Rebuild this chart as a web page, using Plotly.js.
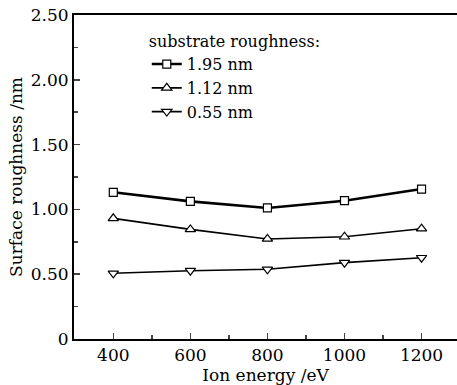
<!DOCTYPE html>
<html><head><meta charset="utf-8">
<script src="https://cdn.plot.ly/plotly-3.0.1.min.js"></script>
<style>html,body{margin:0;padding:0;background:#fff;overflow:hidden}</style>
</head><body><div id="chart" style="width:457px;height:385px"></div>
<script>
const ionEnergy = [400, 600, 800, 1000, 1200];
const rough195 = [1.132, 1.062, 1.011, 1.067, 1.157];
const rough112 = [0.931, 0.846, 0.772, 0.789, 0.851];
const rough055 = [0.507, 0.527, 0.538, 0.589, 0.627];
const seriesNames = ['1.95 nm', '1.12 nm', '0.55 nm'];
const yTickVals = [0, 0.5, 1.0, 1.5, 2.0, 2.5];
const yTickText = ['0', '0.50', '1.00', '1.50', '2.00', '2.50'];
const xTickVals = [400, 600, 800, 1000, 1200];

const font = 'DejaVu Serif, Liberation Serif, serif';
const mk = (sym, size) => ({symbol: sym, size: size, color: '#fff', line: {color: '#000', width: 1.2}});
const traces = [
  {x: ionEnergy, y: rough195, name: seriesNames[0], mode: 'lines+markers', line: {color: '#000', width: 2.6}, marker: mk('square', 8)},
  {x: ionEnergy, y: rough112, name: seriesNames[1], mode: 'lines+markers', line: {color: '#000', width: 1.6}, marker: mk('triangle-up', 9)},
  {x: ionEnergy, y: rough055, name: seriesNames[2], mode: 'lines+markers', line: {color: '#000', width: 1.6}, marker: mk('triangle-down', 9)}
];

const layout = {
  width: 457, height: 385,
  margin: {l: 74, r: 0, t: 15, b: 46},
  paper_bgcolor: '#fff', plot_bgcolor: '#fff',
  font: {family: font, color: '#000', size: 16},
  showlegend: true,
  legend: {
    x: 0.19, y: 0.965, xanchor: 'left', yanchor: 'top',
    bgcolor: 'rgba(0,0,0,0)', font: {family: font, size: 16},
    title: {text: 'substrate roughness:', font: {family: font, size: 16}},
    tracegroupgap: 0, itemwidth: 30
  },
  xaxis: {
    range: [298, 1292], tickvals: xTickVals, ticks: 'inside', ticklen: 6, tickwidth: 1.5,
    showline: true, linewidth: 2, linecolor: '#000', mirror: true, showgrid: false, zeroline: false,
    minor: {tickvals: [300, 500, 700, 900, 1100], ticks: 'inside', ticklen: 4, tickwidth: 1.5},
    title: {text: 'Ion energy /eV', font: {family: font, size: 17}, standoff: 2},
    tickfont: {family: font, size: 17}
  },
  yaxis: {
    range: [0, 2.5], tickvals: yTickVals, ticktext: yTickText, ticks: 'inside', ticklen: 6, tickwidth: 1.5,
    showline: true, linewidth: 2, linecolor: '#000', mirror: false, showgrid: false, zeroline: false,
    minor: {tickvals: [0.25, 0.75, 1.25, 1.75, 2.25], ticks: 'inside', ticklen: 4, tickwidth: 1.5},
    title: {text: 'Surface roughness /nm', font: {family: font, size: 17}, standoff: 4},
    tickfont: {family: font, size: 17}
  }
};
Plotly.newPlot('chart', traces, layout, {displayModeBar: false, staticPlot: true});
</script></body></html>
